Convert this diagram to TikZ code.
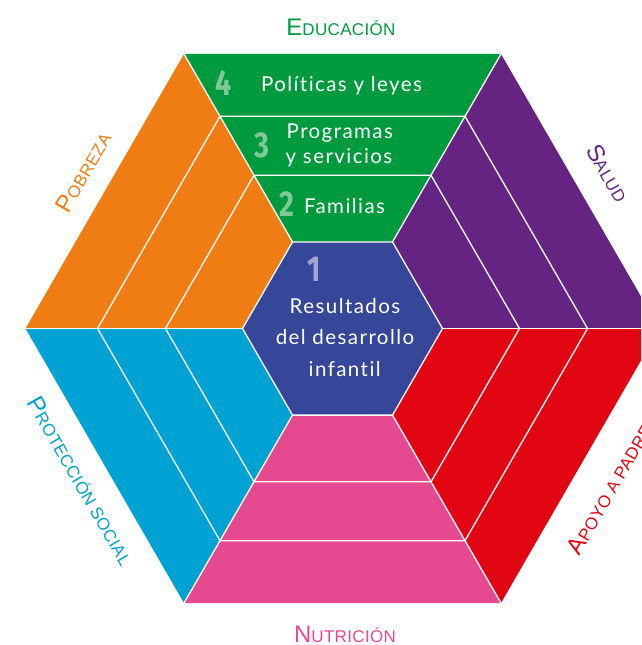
\documentclass[tikz,border=0pt]{standalone}
\usepackage{graphicx}
\usepackage{fontspec}
\setmainfont{Lato}
\newfontfamily\bodyfont{Lato}[LetterSpace=7, Ligatures={NoCommon}]
\newfontfamily\numfont{Fira Sans}
\newfontfamily\labfont{Liberation Sans}[LetterSpace=2]
\definecolor{cGreen}{RGB}{0,154,62}
\definecolor{cOrange}{RGB}{239,125,20}
\definecolor{cPurple}{RGB}{102,36,130}
\definecolor{cRed}{RGB}{226,6,19}
\definecolor{cPink}{RGB}{229,73,143}
\definecolor{cCyan}{RGB}{0,161,211}
\definecolor{cCenter}{RGB}{54,71,154}
\definecolor{numGreen}{RGB}{128,200,150}
\definecolor{numBlue}{RGB}{160,166,212}
\newcommand{\bodysize}{\fontsize{20.5}{24}\selectfont}
\newcommand{\numtxt}[1]{\scalebox{0.8}[1]{\numfont\bfseries\fontsize{36}{36}\selectfont #1}}
\newcommand{\fakesc}[2]{{\fontsize{24}{24}\selectfont #1}{\fontsize{17}{17}\selectfont #2}}
\tikzset{
  sep/.style={draw=white, line width=1.3pt},
  bodytext/.style={text=white, font=\bodyfont\bodysize, inner sep=0pt, anchor=base},
  numtext/.style={inner sep=0pt, anchor=base},
  labtext/.style={font=\labfont, inner sep=0pt},
}
\begin{document}
\begin{tikzpicture}[x=1pt,y=1pt]
\useasboundingbox (0,-645) rectangle (641,0);
\clip (0,-645) rectangle (641,0);
\begin{scope}[shift={(342.5,-328.5)}]
  % sectors
  \fill[cPurple] (0:100) -- (0:317) -- (60:317) -- (60:100) -- cycle;
  \fill[cGreen]  (60:100) -- (60:317) -- (120:317) -- (120:100) -- cycle;
  \fill[cOrange] (120:100) -- (120:317) -- (180:317) -- (180:100) -- cycle;
  \fill[cCyan]   (180:100) -- (180:317) -- (240:317) -- (240:100) -- cycle;
  \fill[cPink]   (240:100) -- (240:317) -- (300:317) -- (300:100) -- cycle;
  \fill[cRed]    (300:100) -- (300:317) -- (360:317) -- (360:100) -- cycle;
  \fill[cCenter] (0:100) -- (60:100) -- (120:100) -- (180:100) -- (240:100) -- (300:100) -- cycle;
  % white separators
  \draw[sep] (0:100) -- (60:100) -- (120:100) -- (180:100) -- (240:100) -- (300:100) -- cycle;
  \draw[sep] (0:177) -- (60:177) -- (120:177) -- (180:177) -- (240:177) -- (300:177) -- cycle;
  \draw[sep] (0:245) -- (60:245) -- (120:245) -- (180:245) -- (240:245) -- (300:245) -- cycle;
  \foreach \a in {0,60,...,300} { \draw[sep] (\a:100) -- (\a:317); }
\end{scope}
% inner texts
\node[numtext] (n4) at (223.7,-95) {\color{numGreen}\numtxt{4}};
\node[bodytext] (t4) at (341.5,-91.7) {Políticas y leyes};
\node[numtext] (n3) at (261.7,-157.7) {\color{numGreen}\numtxt{3}};
\node[bodytext, anchor=base west] (t3a) at (286.5,-138.3) {Programas};
\node[bodytext, anchor=base west] (t3b) at (285.5,-163.3) {y servicios};
\node[numtext] (n2) at (287.3,-216.7) {\color{numGreen}\numtxt{2}};
\node[bodytext] (t2) at (344.5,-213.3) {Familias};
\node[numtext] (n1) at (314,-281.7) {\color{numBlue}\numtxt{1}};
\node[bodytext] (t1a) at (345,-313.3) {Resultados};
\node[bodytext] (t1b) at (345,-344.3) {del desarrollo};
\node[bodytext] (t1c) at (344.7,-376.7) {infantil};
% outer labels
\node[labtext, text=cGreen, anchor=base] (lEdu) at (341,-35) {\fakesc{E}{DUCACIÓN}};
\node[labtext, text=cPink, anchor=base] (lNut) at (345,-642) {\fakesc{N}{UTRICIÓN}};
\node[labtext, text=cOrange, rotate=60] (lPob) at (83,-172) {\fakesc{P}{OBREZA}};
\node[labtext, text=cPurple, rotate=-60] (lSal) at (608,-173) {\fakesc{S}{ALUD}};
\node[labtext, text=cCyan, rotate=-60] (lPro) at (81,-481) {\fakesc{P}{ROTECCIÓN SOCIAL}};
\node[labtext, text=cRed, rotate=60] (lApo) at (612,-484) {\fakesc{A}{POYO A PADRES}};
\end{tikzpicture}
\end{document}
